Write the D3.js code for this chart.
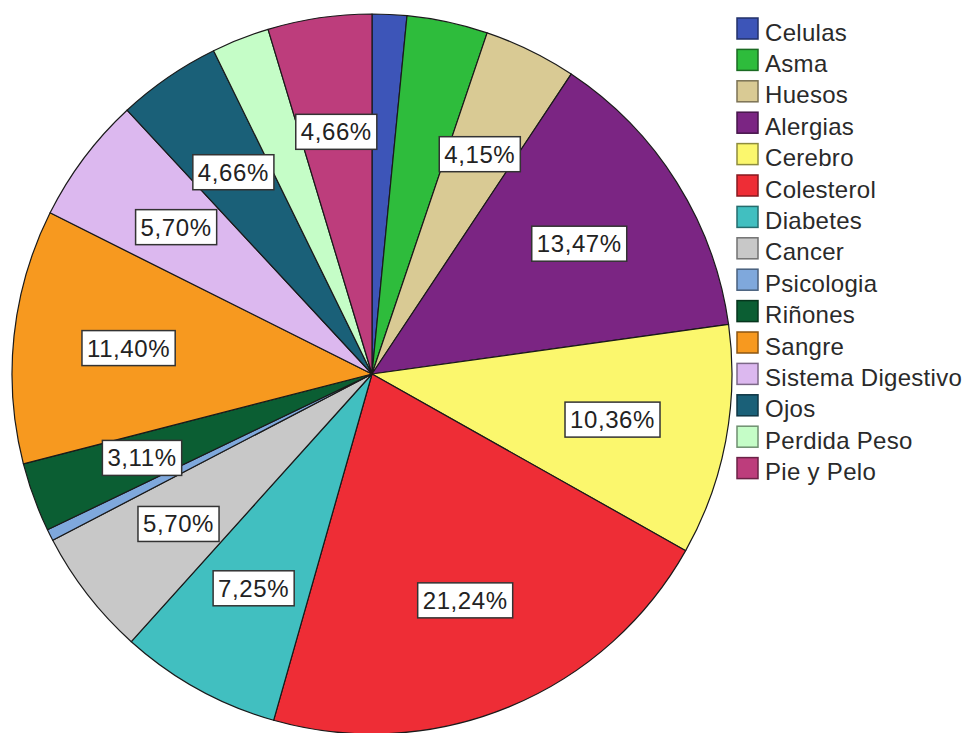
<!DOCTYPE html>
<html>
<head>
<meta charset="utf-8">
<script src="https://cdn.jsdelivr.net/npm/d3@7"></script>
<style>
  body { margin: 0; background: #fff; }
  svg { display: block; font-family: "Liberation Sans", Arial, sans-serif; }
</style>
</head>
<body>
<svg class="pie-chart" width="964" height="733"></svg>
<script>
// categories in the order they run clockwise from 12 o'clock
const categories = ['Celulas', 'Asma', 'Huesos', 'Alergias', 'Cerebro', 'Colesterol',
  'Diabetes', 'Cancer', 'Psicologia', 'Riñones', 'Sangre', 'Sistema Digestivo',
  'Ojos', 'Perdida Peso', 'Pie y Pelo'];

// percentages
const values = [1.55, 3.63, 4.15, 13.47, 10.36, 21.24, 7.25, 5.70, 0.52, 3.11,
  11.40, 5.70, 4.66, 2.59, 4.66];

// which slices carry a label in the original
const labelled = [false, false, true, true, true, true, true, true, false, true,
  true, true, true, false, true];

const colors = ['#3d55b8', '#2ebc3c', '#d9ca94', '#7b2583', '#fbf76d', '#ee2d36',
  '#41bfc0', '#c8c8c8', '#7fa8dc', '#0b5e33', '#f7991f', '#dcb8ef', '#1a6078',
  '#c5fdc7', '#bd3d7c'];

const cx = 372;
const cy = 374;
const radius = 360;

const data = categories.map((c, i) => ({ name: c, value: values[i], label: labelled[i] }));

const color = d3.scaleOrdinal().domain(categories).range(colors);
const fmt = v => d3.format('.2f')(v).replace('.', ',') + '%';

const svg = d3.select('.pie-chart');

const pie = d3.pie().sort(null).value(d => d.value);
const arcs = pie(data);

const arc = d3.arc().innerRadius(0).outerRadius(radius);
const labelArc = d3.arc().innerRadius(radius * 0.68).outerRadius(radius * 0.68);

const g = svg.append('g').attr('transform', `translate(${cx},${cy})`);

g.selectAll('path')
  .data(arcs)
  .enter().append('path')
    .attr('d', arc)
    .attr('fill', d => color(d.data.name))
    .attr('stroke', '#1a1a1a')
    .attr('stroke-width', 1.2)
    .attr('stroke-linejoin', 'round');

// percentage labels in white boxes
const labels = g.selectAll('g.lbl')
  .data(arcs.filter(d => d.data.label))
  .enter().append('g')
    .attr('class', 'lbl')
    .attr('transform', d => `translate(${labelArc.centroid(d)})`);

labels.append('rect');
labels.append('text')
  .attr('text-anchor', 'middle')
  .attr('dominant-baseline', 'central')
  .attr('font-size', 24)
  .attr('letter-spacing', 0.6)
  .attr('fill', '#222')
  .text(d => fmt(d.data.value));

labels.each(function () {
  const bb = d3.select(this).select('text').node().getBBox();
  d3.select(this).select('rect')
    .attr('x', bb.x - 5)
    .attr('y', bb.y - 4)
    .attr('width', bb.width + 10)
    .attr('height', bb.height + 8)
    .attr('fill', '#fff')
    .attr('stroke', '#333')
    .attr('stroke-width', 1.5);
});

// legend
const legendY = d3.scaleBand().domain(categories).range([18, 18 + 31.4 * categories.length]);

const legend = svg.append('g').attr('transform', 'translate(737,0)');
const rows = legend.selectAll('g')
  .data(categories)
  .enter().append('g')
    .attr('transform', d => `translate(0,${legendY(d)})`);

rows.append('rect')
  .attr('width', 21)
  .attr('height', 21)
  .attr('fill', d => color(d))
  .attr('stroke', d => d3.color(color(d)).darker(1.6))
  .attr('stroke-width', 1.5);

rows.append('text')
  .attr('x', 28)
  .attr('y', 14)
  .attr('dominant-baseline', 'central')
  .attr('font-size', 24)
  .attr('letter-spacing', 0.3)
  .attr('fill', '#2a2a2a')
  .text(d => d);
</script>
</body>
</html>
